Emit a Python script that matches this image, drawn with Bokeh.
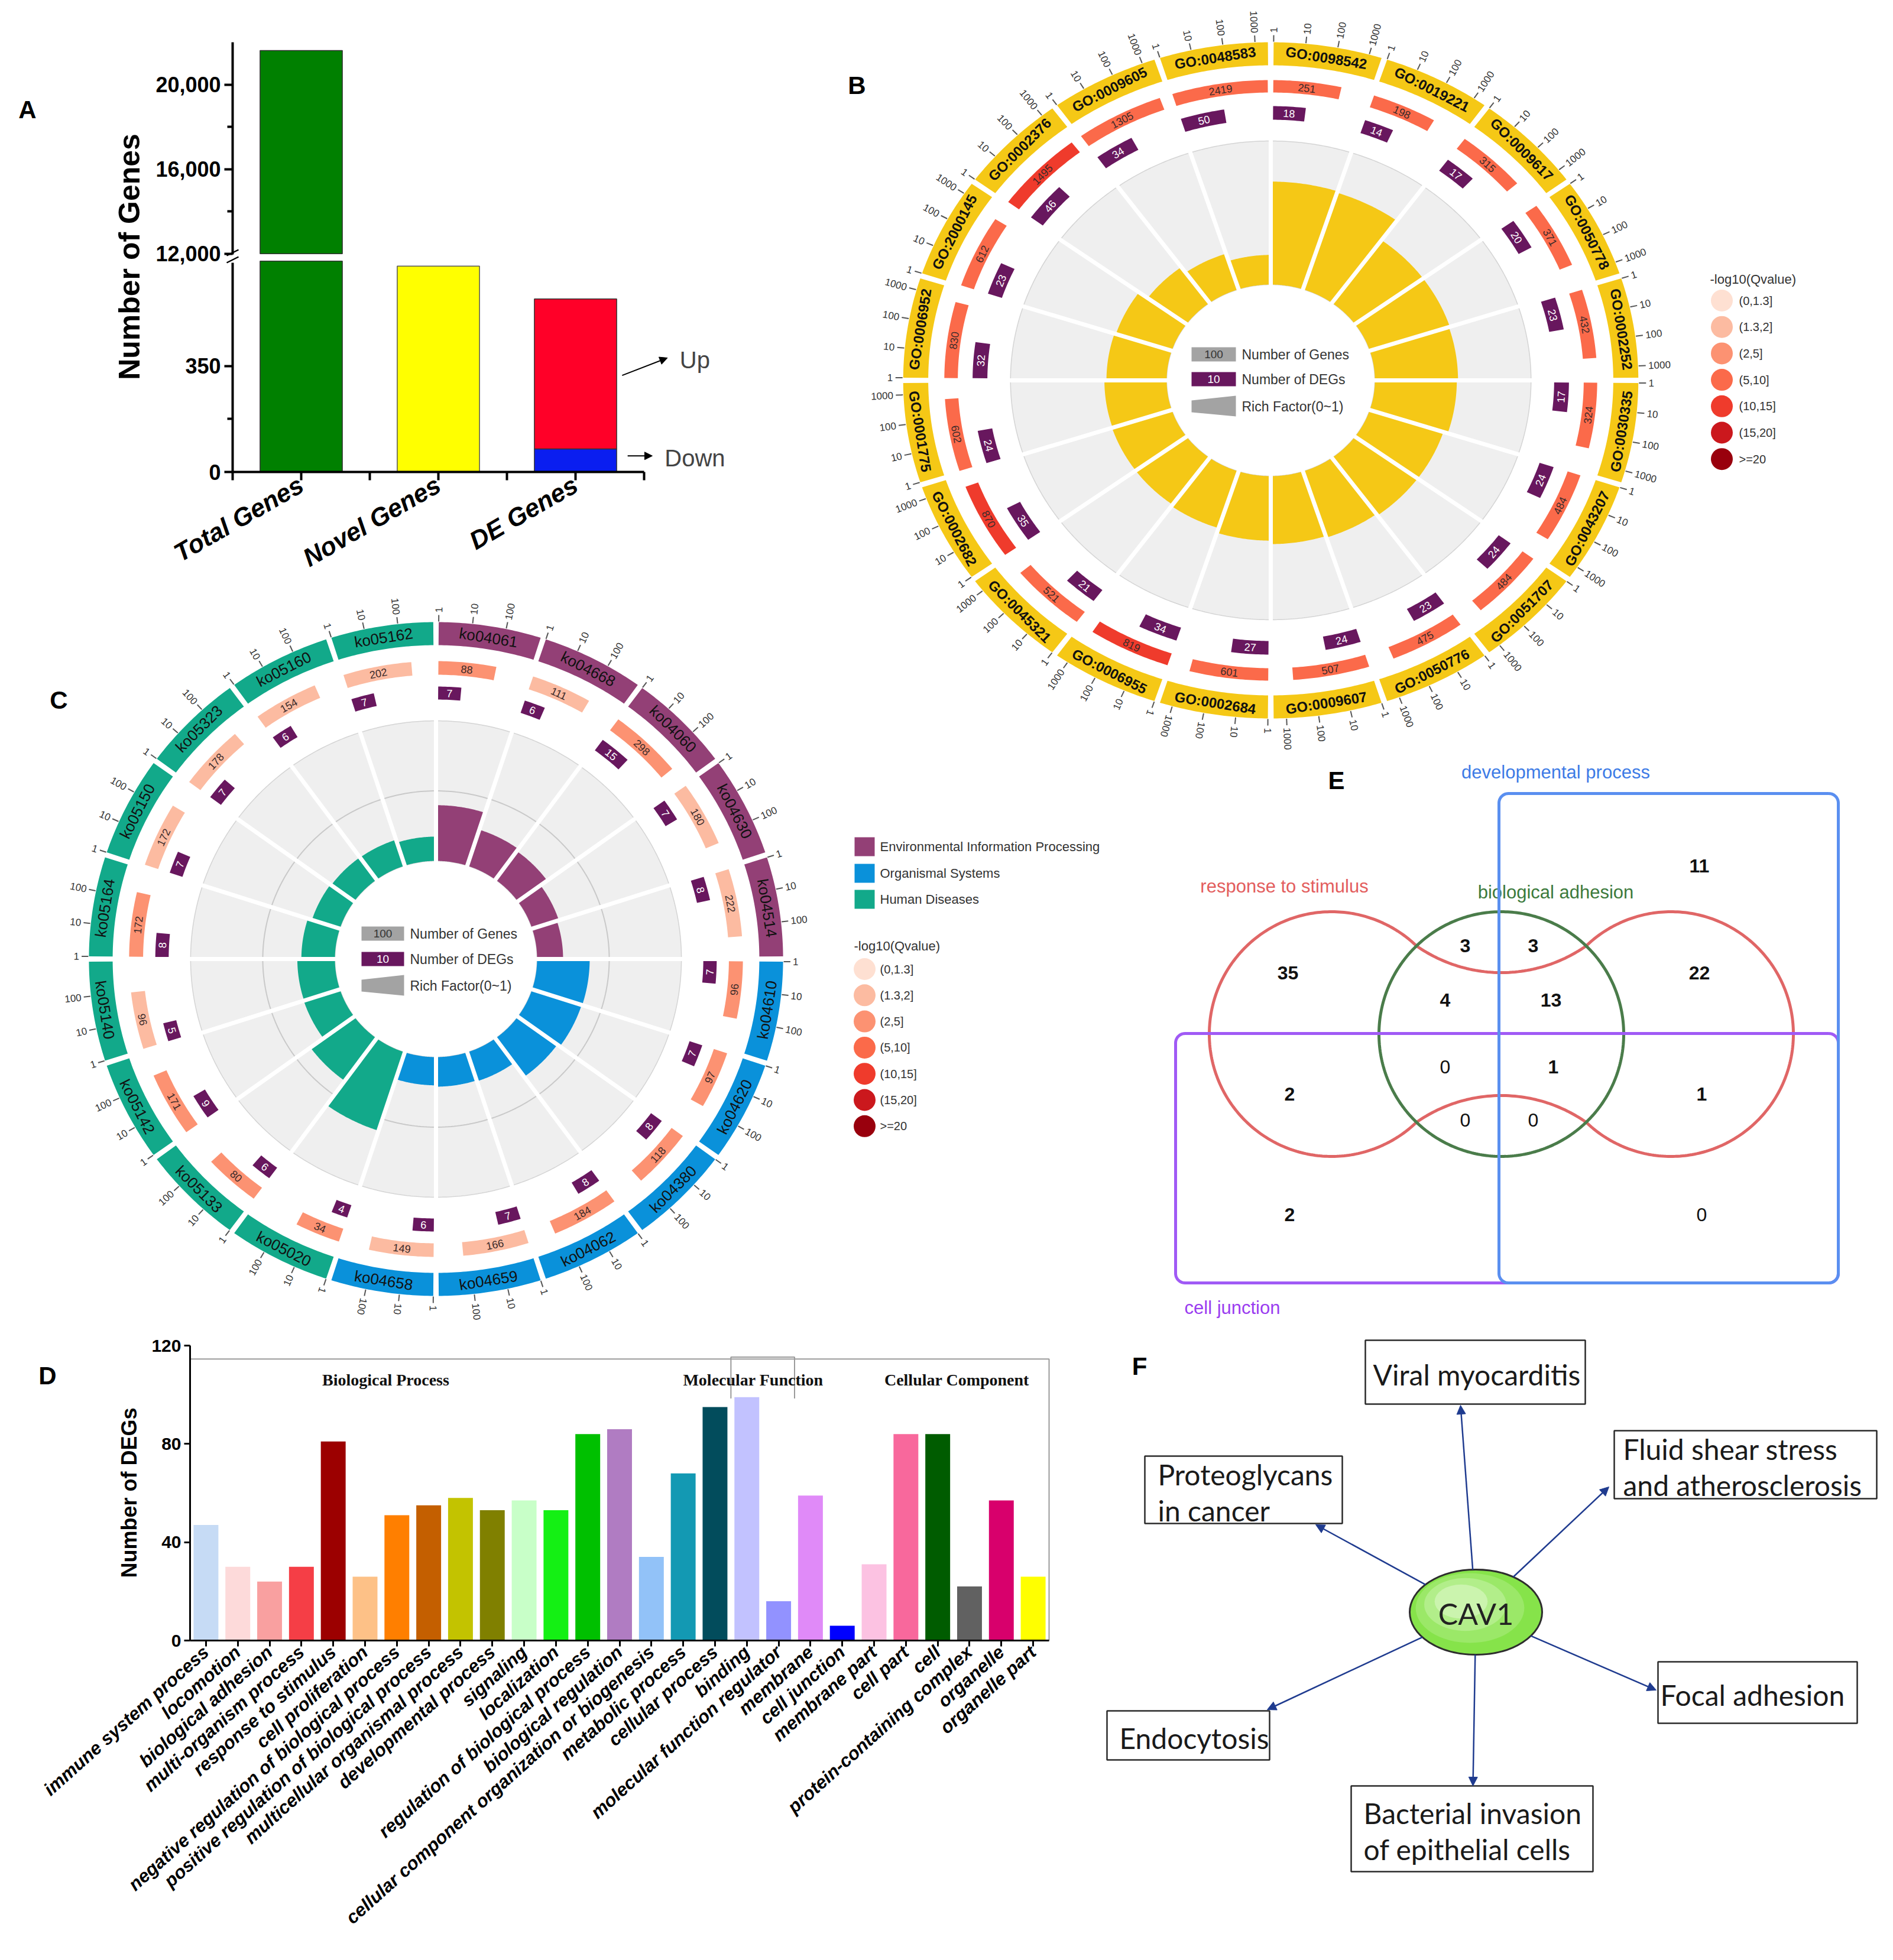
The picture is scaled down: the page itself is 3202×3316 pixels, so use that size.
import numpy as np
from bokeh.plotting import figure
from bokeh.layouts import row, column
from bokeh.models import Range1d, FixedTicker, Arrow, NormalHead, Label, LinearAxis
from bokeh.core.properties import value
from bokeh.embed import file_html
from bokeh.resources import INLINE

FONT = "Liberation Sans"

# ============================ DATA ============================
# Panel A
a_categories = ["Total Genes", "Novel Genes", "DE Genes"]
a_totals = [21610, 680, 572]
a_de_up = 496
a_de_down = 76
a_tick_values = [0, 350, 12000, 16000, 20000]
a_tick_labels = ["0", "350", "12,000", "16,000", "20,000"]
a_minor_values = [175, 14000, 18000]

# Panel B (GO enrichment circle)
b_terms = ["GO:0098542", "GO:0019221", "GO:0009617", "GO:0050778", "GO:0002252",
           "GO:0030335", "GO:0043207", "GO:0051707", "GO:0050776", "GO:0009607",
           "GO:0002684", "GO:0006955", "GO:0045321", "GO:0002682", "GO:0001775",
           "GO:0006952", "GO:2000145", "GO:0002376", "GO:0009605", "GO:0048583"]
b_genes = [251, 198, 315, 371, 432, 324, 484, 484, 475, 507,
           601, 819, 521, 870, 602, 830, 612, 1495, 1305, 2419]
b_degs = [18, 14, 17, 20, 23, 17, 24, 24, 23, 24,
          27, 34, 21, 35, 24, 32, 23, 46, 34, 50]
b_qclass = [3, 3, 3, 3, 3, 3, 3, 3, 3, 3,
            3, 4, 3, 4, 3, 3, 3, 4, 3, 3]
b_tick_values = [1, 10, 100, 1000]

q_labels = ["(0,1.3]", "(1.3,2]", "(2,5]", "(5,10]", "(10,15]", "(15,20]", ">=20"]

# Panel C (KEGG enrichment circle)
c_terms = ["ko04061", "ko04668", "ko04060", "ko04630", "ko04514", "ko04610", "ko04620",
           "ko04380", "ko04062", "ko04659", "ko04658", "ko05020", "ko05133", "ko05142",
           "ko05140", "ko05164", "ko05150", "ko05323", "ko05160", "ko05162"]
c_genes = [88, 111, 298, 180, 222, 96, 97, 118, 184, 166, 149, 34, 80, 171, 96, 172, 172, 178, 154, 202]
c_degs = [7, 6, 15, 7, 8, 7, 7, 8, 8, 7, 6, 4, 6, 9, 5, 8, 7, 7, 6, 7]
c_qclass = [2, 1, 2, 1, 1, 2, 2, 2, 2, 1, 1, 2, 2, 2, 1, 2, 1, 1, 1, 1]
c_group = [0, 0, 0, 0, 0, 1, 1, 1, 1, 1, 1, 2, 2, 2, 2, 2, 2, 2, 2, 2]
c_group_names = ["Environmental Information Processing", "Organismal Systems", "Human Diseases"]
c_tick_values = [1, 10, 100]

# Panel D (GO classification)
d_terms = ["immune system process", "locomotion", "biological adhesion", "multi-organism process",
           "response to stimulus", "cell proliferation", "negative regulation of biological process",
           "positive regulation of biological process", "multicellular organismal process",
           "developmental process", "signaling", "localization", "regulation of biological process",
           "biological regulation", "cellular component organization or biogenesis",
           "metabolic process", "cellular process", "binding", "molecular function regulator",
           "membrane", "cell junction", "membrane part", "cell part", "cell",
           "protein-containing complex", "organelle", "organelle part"]
d_values = [47, 30, 24, 30, 81, 26, 51, 55, 58, 53, 57, 53, 84, 86, 34, 68, 95,
            99, 16, 59, 6, 31, 84, 84, 22, 57, 26]
d_ontology = ["Biological Process"] * 17 + ["Molecular Function"] * 2 + ["Cellular Component"] * 8
d_group_names = ["Biological Process", "Molecular Function", "Cellular Component"]
d_tick_values = [0, 40, 80, 120]

# Panel E (Venn)
e_set_names = ["response to stimulus", "biological adhesion", "developmental process", "cell junction"]
e_region_counts = [35, 3, 3, 22, 4, 13, 11, 2, 0, 1, 1, 0, 0, 2, 0]

# Panel F (network)
f_hub = "CAV1"
f_pathways = ["Viral myocarditis", "Fluid shear stress\nand atherosclerosis", "Focal adhesion",
              "Bacterial invasion\nof epithelial cells", "Endocytosis", "Proteoglycans\nin cancer"]

# ============================ STYLE ============================
q_colors = ["#FEE0D2", "#FCBBA1", "#FC9272", "#FB6A4A", "#EF3B2C", "#CB181D", "#99000D"]
GO_YELLOW = "#F5C816"
DEG_PURPLE = "#68175E"
c_group_colors = ["#934076", "#0A91DA", "#12A98A"]
d_colors = ["#c6dbf5", "#fddada", "#f9a0a0", "#f53e46", "#9c0000", "#fdc187", "#ff7f00",
            "#c45f00", "#c3c300", "#808000", "#c8ffc8", "#14f014", "#00c000", "#b07cc2",
            "#92c2f8", "#1399b3", "#024c5c", "#c2c2ff", "#9292ff", "#e08af8", "#0000ff",
            "#fcc2e2", "#f8689c", "#005c00", "#616161", "#d8006c", "#ffff00"]


def T(p, xs, ys, texts, size, color="#222222", align="center", baseline="middle",
      angle=0.0, style="normal", font=FONT):
    kw = dict(x=[float(v) for v in xs], y=[float(v) for v in ys], text=[str(t) for t in texts],
              text_font=value(font), text_font_size=value(f"{size}px"), text_font_style=style,
              text_align=align, text_baseline=baseline)
    kw["angle"] = [float(a) for a in angle] if np.ndim(angle) else float(angle)
    kw["text_color"] = color if isinstance(color, str) else list(color)
    p.text(**kw)


def unalign(p):
    try:
        p.frame_align = False
    except Exception:
        pass
    return p


def canvas(x0, y0, w, h):
    p = figure(width=w, height=h, x_range=Range1d(x0, x0 + w), y_range=Range1d(-(y0 + h), -y0),
               x_axis_type=None, y_axis_type=None, output_backend="svg", toolbar_location=None,
               min_border=0)
    p.outline_line_color = None
    return unalign(p)


def style_axis(ax, lw, tick_out, label_size, label_style="bold"):
    ax.axis_line_width = lw
    ax.axis_line_color = "black"
    ax.major_tick_line_width = lw
    ax.major_tick_line_color = "black"
    ax.major_tick_out = tick_out
    ax.major_tick_in = 0
    ax.minor_tick_line_width = lw
    ax.minor_tick_line_color = "black"
    ax.minor_tick_out = int(tick_out * 0.65)
    ax.minor_tick_in = 0
    ax.major_label_text_font = FONT
    ax.major_label_text_color = "black"
    ax.major_label_text_font_style = label_style
    ax.major_label_text_font_size = f"{label_size}px"


# ============================ PANEL A ============================
LOW_LIM = 700.0
UP_LO = 12000.0
D_BREAK = 721.0
UP_SCALE = 0.0699
GAP_LO = 697.0


def amap(v):
    return float(v) if v <= LOW_LIM else D_BREAK + (v - UP_LO) * UP_SCALE


A_TOP = amap(22000)
A_XPX = 232.0               # px per category
A_YPX = 727.0 / A_TOP       # px per display unit
A_X0, A_Y0 = 393.0, 798.0   # page position of the origin
pa = figure(width=1420, height=1000,
            x_range=Range1d(-A_X0 / A_XPX, (1420 - A_X0) / A_XPX),
            y_range=Range1d(-(1000 - A_Y0) / A_YPX, A_Y0 / A_YPX),
            output_backend="svg", toolbar_location=None, min_border=0)
unalign(pa)
pa.grid.visible = False
pa.outline_line_color = None


def ax_(X):
    return (X - A_X0) / A_XPX


def ay_(Y):
    return (A_Y0 - Y) / A_YPX


xc = np.arange(len(a_categories)) + 0.5
bw = 0.6
pa.vbar(x=[xc[0]], bottom=[0], top=[min(amap(a_totals[0]), GAP_LO)], width=bw,
        fill_color="#008000", line_color="#333333", line_width=1.5)
pa.vbar(x=[xc[0]], bottom=[D_BREAK], top=[amap(a_totals[0])], width=bw,
        fill_color="#008000", line_color="#333333", line_width=1.5)
pa.vbar(x=[xc[1]], bottom=[0], top=[amap(a_totals[1])], width=bw,
        fill_color="#FFFF00", line_color="#555555", line_width=1.5)
pa.vbar(x=[xc[2]], bottom=[0], top=[a_de_down], width=bw,
        fill_color="#0A1EF0", line_color="#333333", line_width=1.5)
pa.vbar(x=[xc[2]], bottom=[a_de_down], top=[a_de_down + a_de_up], width=bw,
        fill_color="#FF0028", line_color="#333333", line_width=1.5)

# broken y axis: two axes at x = 0, one for each segment
lo_ticks = [amap(v) for v in a_tick_values if v <= LOW_LIM]
hi_ticks = [amap(v) for v in a_tick_values if v > LOW_LIM]
lab = {amap(v): l for v, l in zip(a_tick_values, a_tick_labels)}
ya_hi = pa.yaxis[0]
ya_hi.fixed_location = 0
ya_hi.bounds = (D_BREAK - 3, A_TOP)
ya_hi.ticker = FixedTicker(ticks=hi_ticks, minor_ticks=[amap(v) for v in a_minor_values if v > LOW_LIM])
ya_hi.major_label_overrides = {t: lab[t] for t in hi_ticks}
ya_lo = LinearAxis(fixed_location=0, bounds=(0, GAP_LO - 6),
                   ticker=FixedTicker(ticks=lo_ticks, minor_ticks=[amap(v) for v in a_minor_values if v <= LOW_LIM]))
ya_lo.major_label_overrides = {t: lab[t] for t in lo_ticks}
pa.add_layout(ya_lo, "left")
for ax in (ya_hi, ya_lo):
    style_axis(ax, 4, 14, 36)
    ax.major_label_standoff = 6
xa = pa.xaxis[0]
xa.fixed_location = 0
xa.bounds = (0, 3)
xt = [0.0, 0.5, 1.0, 1.5, 2.0, 2.5, 3.0]
xa.ticker = FixedTicker(ticks=xt)
ov = {t: "" for t in xt}
for i, c in enumerate(a_categories):
    ov[float(xc[i])] = c
xa.major_label_overrides = ov
style_axis(xa, 4, 14, 43, "bold italic")
xa.minor_tick_line_color = None
xa.major_label_orientation = np.pi / 6
xa.major_label_standoff = 4
# break marks
pa.segment(x0=[ax_(383), ax_(383)], y0=[ay_(444), ay_(432)], x1=[ax_(403), ax_(403)],
           y1=[ay_(434), ay_(422)], line_color="black", line_width=2.5)
T(pa, [ax_(218)], [ay_(434)], ["Number of Genes"], 50, color="black", style="bold", angle=np.pi / 2)
T(pa, [ax_(46)], [ay_(185)], ["A"], 42, color="black", style="bold")
up_mid = a_de_down + a_de_up * 0.49
pa.add_layout(Arrow(end=NormalHead(size=13, fill_color="black", line_color="black"),
                    x_start=xc[2] + bw / 2 + 0.04, y_start=up_mid, x_end=xc[2] + 0.67,
                    y_end=up_mid + 58, line_color="black", line_width=2))
pa.add_layout(Label(x=xc[2] + 0.76, y=up_mid + 52, text="Up", text_font=FONT, text_font_size="40px",
                    text_align="left", text_baseline="middle"))
pa.add_layout(Arrow(end=NormalHead(size=13, fill_color="black", line_color="black"),
                    x_start=xc[2] + bw / 2 + 0.08, y_start=a_de_down * 0.7, x_end=xc[2] + 0.56,
                    y_end=a_de_down * 0.7, line_color="black", line_width=2))
pa.add_layout(Label(x=xc[2] + 0.65, y=a_de_down * 0.6, text="Down", text_font=FONT,
                    text_font_size="40px", text_align="left", text_baseline="middle"))


# ============================ RING PANELS (B, C) ============================
def ring_panel(p, cx, cy, sx, R, terms, genes, degs, qcls, band_cols, L, rf_axis, ticks,
               lab_size, lab_style, grid_rf=None):
    n = len(terms)
    seg = 360.0 / n
    gap = 0.9
    a0 = np.arange(n) * seg + gap / 2.0
    span = np.full(n, seg - gap)
    genes = np.asarray(genes, float)
    degs = np.asarray(degs, float)

    def pt(r, th):
        t = np.radians(th)
        return cx + sx * r * np.sin(t), -cy + r * np.cos(t)

    def sector(r1, r2, ta, tb):
        m = max(6, int(abs(tb - ta) * 2) + 2)
        t = np.linspace(ta, tb, m)
        xo, yo = pt(r2, t)
        xi, yi = pt(r1, t[::-1])
        return [float(v) for v in np.r_[xo, xi]], [float(v) for v in np.r_[yo, yi]]

    def tang(th):
        th = th % 360.0
        return np.radians(180.0 - th if 90.0 < th < 270.0 else -th)

    def draw(secs, colors):
        p.patches([s[0] for s in secs], [s[1] for s in secs], fill_color=list(colors), line_color=None)

    bg = [sector(R["inner"], R["gray"], i * seg, (i + 1) * seg) for i in range(n)]
    p.patches([b[0] for b in bg], [b[1] for b in bg], fill_color="#efefef",
              line_color="#d4d4d4", line_width=1.5)
    if grid_rf is not None:
        rg = R["inner"] + (R["gray"] - R["inner"]) * grid_rf / rf_axis
        gx, gy = pt(rg, np.linspace(0, 360, 361))
        p.line([float(v) for v in gx], [float(v) for v in gy], line_color="#c9c9c9", line_width=2)
    rf = degs / genes
    rtop = R["inner"] + (R["gray"] - R["inner"]) * rf / rf_axis
    draw([sector(R["inner"], rtop[i], i * seg, (i + 1) * seg) for i in range(n)], band_cols)
    ang = np.arange(n) * seg
    x0, y0 = pt(R["inner"] - 4, ang)
    x1, y1 = pt(R["gray"] + 6, ang)
    p.segment([float(v) for v in x0], [float(v) for v in y0], [float(v) for v in x1],
              [float(v) for v in y1], line_color="white", line_width=7)
    draw([sector(R["b1"], R["b2"], a0[i], a0[i] + span[i]) for i in range(n)], band_cols)
    mid = a0 + span / 2
    lx, ly = pt((R["b1"] + R["b2"]) / 2, mid)
    T(p, lx, ly, terms, lab_size, color="#111111", angle=[tang(m) for m in mid], style=lab_style)
    gf = np.clip(np.log10(genes) / L, 0.05, 1.0)
    draw([sector(R["g1"], R["g2"], a0[i], a0[i] + gf[i] * span[i]) for i in range(n)],
         [q_colors[c] for c in qcls])
    gm = a0 + gf * span / 2
    gx, gy = pt((R["g1"] + R["g2"]) / 2, gm)
    T(p, gx, gy, [str(int(g)) for g in genes], 18, color="#3a2a2a", angle=[tang(m) for m in gm])
    df = np.clip(np.log10(degs) / L, 0.05, 1.0)
    draw([sector(R["d1"], R["d2"], a0[i], a0[i] + df[i] * span[i]) for i in range(n)],
         [DEG_PURPLE] * n)
    dm = a0 + df * span / 2
    dx, dy = pt((R["d1"] + R["d2"]) / 2, dm)
    T(p, dx, dy, [str(int(d)) for d in degs], 18, color="white", angle=[tang(m) for m in dm])
    sx0, sy0, sx1, sy1 = [], [], [], []
    labs = {"left": ([], [], [], []), "right": ([], [], [], [])}
    for i in range(n):
        for t in ticks:
            f = np.log10(t) / L
            if f > 1.0:
                continue
            th = a0[i] + f * span[i]
            xa_, ya_ = pt(R["b2"] + 1, th)
            xb_, yb_ = pt(R["b2"] + 12, th)
            sx0.append(float(xa_)); sy0.append(float(ya_)); sx1.append(float(xb_)); sy1.append(float(yb_))
            xl, yl = pt(R["b2"] + 16, th)
            thm = th % 360.0
            key = "left" if thm < 200 else "right"
            aa = np.radians(90 - thm) if key == "left" else np.radians(270 - thm)
            labs[key][0].append(xl); labs[key][1].append(yl)
            labs[key][2].append(str(t)); labs[key][3].append(aa)
    p.segment(sx0, sy0, sx1, sy1, line_color="#555555", line_width=2)
    for key, lb in labs.items():
        T(p, lb[0], lb[1], lb[2], 17, color="#333333", align=key, angle=lb[3])


def inner_legend(p, xl, xr, ys):
    h = 24
    p.quad(left=[xl], right=[xr], top=[-(ys[0] - h / 2)], bottom=[-(ys[0] + h / 2)],
           fill_color="#a3a3a3", line_color=None)
    T(p, [(xl + xr) / 2], [-ys[0]], ["100"], 19, color="#333333")
    p.quad(left=[xl], right=[xr], top=[-(ys[1] - h / 2)], bottom=[-(ys[1] + h / 2)],
           fill_color=DEG_PURPLE, line_color=None)
    T(p, [(xl + xr) / 2], [-ys[1]], ["10"], 19, color="white")
    p.patch([xl, xr, xr, xl], [-(ys[2] - 10), -(ys[2] - 18), -(ys[2] + 17), -(ys[2] + 10)],
            fill_color="#a3a3a3", line_color=None)
    T(p, [xr + 10] * 3, [-y for y in ys], ["Number of Genes", "Number of DEGs", "Rich Factor(0~1)"],
      23, color="#333333", align="left")


def q_legend(p, x_title, y_title, x_c, y0, dy, x_lab):
    T(p, [x_title], [-y_title], ["-log10(Qvalue)"], 22, color="#333333", align="left")
    ys = [-(y0 + dy * i) for i in range(len(q_labels))]
    p.scatter(x=[x_c] * len(q_labels), y=ys, size=37, fill_color=q_colors, line_color=None)
    T(p, [x_lab] * len(q_labels), ys, q_labels, 20, color="#333333", align="left")


# ---- Panel B
B_H = 1285
pb = canvas(1420, 0, 1766, B_H)
RB = dict(inner=162, gray=405, d1=441, d2=464, g1=487, g2=508, b1=533, b2=572)
ring_panel(pb, 2149, 643, 1.087, RB, b_terms, b_genes, b_degs, b_qclass, [GO_YELLOW] * len(b_terms),
           L=3.4, rf_axis=0.1, ticks=b_tick_values, lab_size=24, lab_style="bold")
inner_legend(pb, 2015, 2090, [599, 641, 687])
q_legend(pb, 2892, 472, 2912, 508, 44.7, 2941)
T(pb, [1449], [-144], ["B"], 42, color="black", style="bold")

# ---- Panel C
pc = canvas(0, 1000, 1420, 1250)
RC = dict(inner=166, gray=403, d1=439, d2=461, g1=481, g2=504, b1=531, b2=570)
ring_panel(pc, 737, 1622, 1.03, RC, c_terms, c_genes, c_degs, c_qclass,
           [c_group_colors[g] for g in c_group], L=3.05, rf_axis=0.2, ticks=c_tick_values,
           lab_size=26, lab_style="normal", grid_rf=0.1)
inner_legend(pc, 611, 683, [1579, 1622, 1667])
T(pc, [99], [-1184], ["C"], 42, color="black", style="bold")

# ============================ PANEL E (Venn + legend of C) ============================
pe = canvas(1420, B_H, 1766, 2250 - B_H)
ly_groups = [1432, 1477, 1521]
pe.rect(x=[1462] * 3, y=[-y for y in ly_groups], width=34, height=32,
        fill_color=c_group_colors, line_color=None)
T(pe, [1488] * 3, [-y for y in ly_groups], c_group_names, 22, color="#333333", align="left")
q_legend(pe, 1444, 1600, 1462, 1639, 44.3, 1488)


def rrect(x0, y0, x1, y1, r):
    xs, ys = [], []
    for (ccx, ccy, a_s, a_e) in [(x1 - r, y0 + r, 270, 360), (x1 - r, y1 - r, 0, 90),
                                 (x0 + r, y1 - r, 90, 180), (x0 + r, y0 + r, 180, 270)]:
        t = np.radians(np.linspace(a_s, a_e, 12))
        xs += list(ccx + r * np.cos(t))
        ys += list(ccy + r * np.sin(t))
    xs.append(xs[0]); ys.append(ys[0])
    return [float(v) for v in xs], [float(-v) for v in ys]


rV = 207.0
cLx, cGx, cRx, cY = 2252.0, 2539.0, 2826.0, 1749.0
hx = (cGx - cLx) / 2
hy = np.sqrt(rV ** 2 - hx ** 2)
jt = cY - hy
yd = cY - 104.0
c_top = (yd ** 2 - jt ** 2 - hx ** 2) / (2 * (yd - jt))
Ra = yd - c_top
c_bot = 2 * cY - c_top
am = np.degrees(np.arcsin(hx / Ra))
aL = np.degrees(np.arctan2(-hy, hx))
seg1 = np.radians(np.linspace(aL, aL - (360 + 2 * aL), 240))
px = list(cLx + rV * np.cos(seg1)); py = list(cY + rV * np.sin(seg1))
al = np.radians(np.linspace(-am, am, 60))
px += list(cGx + Ra * np.sin(al)); py += list(c_bot - Ra * np.cos(al))
aR = np.degrees(np.arctan2(hy, -hx))
seg3 = np.radians(np.linspace(aR, -aR, 240))
px += list(cRx + rV * np.cos(seg3)); py += list(cY + rV * np.sin(seg3))
al2 = np.radians(np.linspace(am, -am, 60))
px += list(cGx + Ra * np.sin(al2)); py += list(c_top + Ra * np.cos(al2))
px.append(px[0]); py.append(py[0])
pe.line([float(v) for v in px], [float(-v) for v in py], line_color="#E06666", line_width=5)
tg = np.radians(np.linspace(0, 360, 361))
pe.line([float(v) for v in cGx + rV * np.cos(tg)], [float(v) for v in -(cY + rV * np.sin(tg))],
        line_color="#4A7C4A", line_width=5)
T(pe, [2631], [-1509], [e_set_names[1]], 31, color="#3C7A3C")
xs_, ys_ = rrect(1988, 1748, 3109, 2170, 16)
pe.line(xs_, ys_, line_color="#A05AF5", line_width=5)
xs_, ys_ = rrect(2535, 1342, 3109, 2170, 16)
pe.line(xs_, ys_, line_color="#5A8FF0", line_width=5)
T(pe, [2172], [-1499], [e_set_names[0]], 31, color="#E35D5D")
T(pe, [2631], [-1306], [e_set_names[2]], 31, color="#3D7BE6")
T(pe, [2084], [-2212], [e_set_names[3]], 31, color="#9A3CF0")
e_pos = [(2178, 1645), (2478, 1599), (2593, 1599), (2874, 1645), (2444, 1691), (2623, 1691),
         (2874, 1464), (2181, 1850), (2444, 1804), (2627, 1804), (2878, 1850), (2478, 1894),
         (2593, 1894), (2181, 2054), (2878, 2054)]
for cnt, (ex, ey) in zip(e_region_counts, e_pos):
    T(pe, [ex], [-ey], [cnt], 32, color="#111111", style="bold" if cnt > 0 else "normal")
T(pe, [2260], [-1320], ["E"], 42, color="black", style="bold")

# ============================ PANEL D ============================
nd = len(d_terms)
D_XPX = 1453.0 / nd      # px per category
D_YPX = 499.0 / 120.0    # px per DEG
D_X0, D_Y0 = 321.0, 525.0  # origin inside the 1820 x 1050 figure
pd_ = figure(width=1820, height=1050,
             x_range=Range1d(-D_X0 / D_XPX, (1820 - D_X0) / D_XPX),
             y_range=Range1d(-(1050 - D_Y0) / D_YPX, D_Y0 / D_YPX),
             output_backend="svg", toolbar_location=None, min_border=0)
unalign(pd_)
pd_.grid.visible = False
pd_.outline_line_color = None
dx_c = [i + 0.5 for i in range(nd)]
pd_.vbar(x=dx_c, top=d_values, width=0.78, fill_color=d_colors, line_color=None)
dya = pd_.yaxis[0]
dya.fixed_location = 0
dya.bounds = (0, 120)
dya.ticker = FixedTicker(ticks=d_tick_values)
style_axis(dya, 3, 10, 30)
dxa = pd_.xaxis[0]
dxa.fixed_location = 0
dxa.bounds = (0, nd)
dxa.ticker = FixedTicker(ticks=dx_c)
dxa.major_label_overrides = {float(x): t for x, t in zip(dx_c, d_terms)}
style_axis(dxa, 3, 10, 31, "bold italic")
dxa.minor_tick_line_color = None
dxa.major_label_orientation = 0.73
bp_end = d_ontology.count(d_group_names[0])
mf_end = bp_end + d_ontology.count(d_group_names[1])
pd_.line([0, nd, nd], [114.5, 114.5, 0], line_color="#9a9a9a", line_width=2)
pd_.line([bp_end, bp_end, mf_end, mf_end], [98.5, 115.3, 115.3, 98.5], line_color="#9a9a9a", line_width=2)
T(pd_, [6.15, 17.7, 24.1], [106, 106, 106], d_group_names, 28, color="#111111", style="bold",
  font="Liberation Serif")
T(pd_, [(218 - D_X0) / D_XPX], [(D_Y0 - 275) / D_YPX], ["Number of DEGs"], 36, color="black",
  style="bold", angle=np.pi / 2)
T(pd_, [(80 - D_X0) / D_XPX], [(D_Y0 - 77) / D_YPX], ["D"], 42, color="black", style="bold")

# ============================ PANEL F ============================
pf = canvas(1820, 2250, 1366, 1050)
f_box_rects = [(2309, 2267, 2681, 2375), (2730, 2420, 3174, 2535), (2804, 2811, 3141, 2915),
               (2285, 3021, 2694, 3166), (1872, 2894, 2147, 2977), (1936, 2463, 2270, 2577)]
f_text_x = [2322, 2745, 2808, 2306, 1893, 1958]
f_tips = [(2470, 2377), (2721, 2515), (2801, 2859), (2491, 3021), (2143, 2892), (2225, 2579)]
hub_x, hub_y, hub_rx, hub_ry = 2496.0, 2727.0, 112.0, 72.0
ACOL = "#1F3B8F"
for name, (bx0, by0, bx1, by1), tx, (ex, ey) in zip(f_pathways, f_box_rects, f_text_x, f_tips):
    pf.quad(left=[bx0], right=[bx1], top=[-by0], bottom=[-by1], fill_color=None,
            line_color="#2a2a2a", line_width=2.5)
    lines = name.split("\n")
    cyb = (by0 + by1) / 2 + 4
    ys = [cyb + (k - (len(lines) - 1) / 2) * 61 for k in range(len(lines))]
    T(pf, [tx] * len(lines), [-y for y in ys], lines, 48, color="#1a1a1a", align="left", font="Lato")
    ddx, ddy = ex - hub_x, ey - hub_y
    s = 1.0 / np.sqrt((ddx / hub_rx) ** 2 + (ddy / hub_ry) ** 2)
    pf.add_layout(Arrow(end=NormalHead(size=15, fill_color=ACOL, line_color=ACOL),
                        x_start=hub_x + s * ddx, y_start=-(hub_y + s * ddy), x_end=ex, y_end=-ey,
                        line_color=ACOL, line_width=2.5))
pf.ellipse(x=[hub_x], y=[-hub_y], width=2 * hub_rx, height=2 * hub_ry, fill_color="#86E34A",
           line_color="#2d2d2d", line_width=3)
for col, sc, ox, oy in [("#9BE868", 0.82, -10, 7), ("#B2EE8A", 0.62, -18, 13), ("#CBF4AE", 0.4, -25, 18)]:
    pf.ellipse(x=[hub_x + ox], y=[-hub_y + oy], width=2 * hub_rx * sc, height=2 * hub_ry * sc,
               fill_color=col, line_color=None)
T(pf, [hub_x], [-(hub_y + 2)], [f_hub], 50, color="#222222", font="Lato")
T(pf, [1927], [-2311], ["F"], 42, color="black", style="bold")

# ============================ LAYOUT ============================
layout = column(row(column(pa, pc), column(pb, pe)), row(pd_, pf))
open("out.html", "w").write(file_html(layout, INLINE, "Figure"))
